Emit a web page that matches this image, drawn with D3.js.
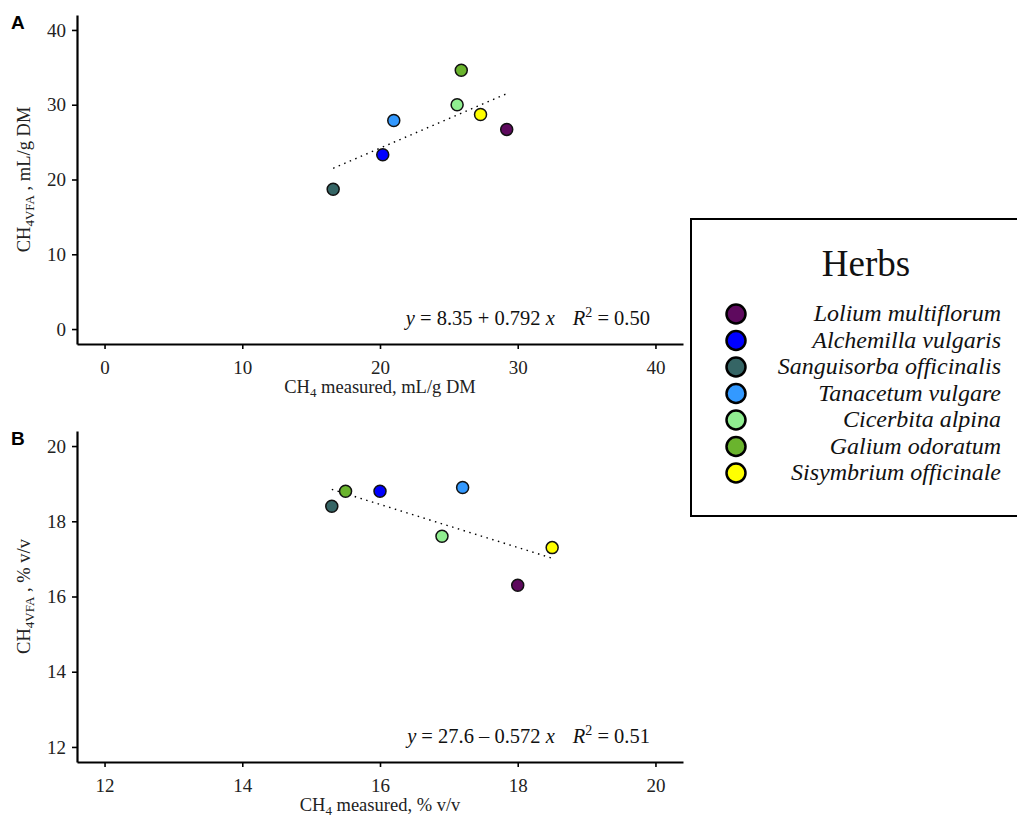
<!DOCTYPE html>
<html>
<head>
<meta charset="utf-8">
<script src="https://cdn.jsdelivr.net/npm/d3@7"></script>
<style>
  body { margin: 0; background: #fff; }
  svg { display: block; }
</style>
</head>
<body>
<svg id="chart" width="1017" height="818"></svg>
<script>
// herbs and their colours
const herbs = ["Lolium multiflorum", "Alchemilla vulgaris", "Sanguisorba officinalis",
  "Tanacetum vulgare", "Cicerbita alpina", "Galium odoratum", "Sisymbrium officinale"];
const herbColors = ["#5e0a5e", "#0000ff", "#356565", "#3399ff", "#90ee90", "#6ab42d", "#ffff00"];

// panel A: mL/g DM
const measuredA = [29.2, 20.2, 16.6, 21.0, 25.6, 25.9, 27.3];
const vfaA = [26.7, 23.3, 18.7, 27.9, 30.0, 34.6, 28.7];
const ticksA = [0, 10, 20, 30, 40];
const fitA = { intercept: 8.35, slope: 0.792, r2: "0.50" };

// panel B: % v/v
const measuredB = [18.0, 16.0, 15.3, 17.2, 16.9, 15.5, 18.5];
const vfaB = [16.3, 18.8, 18.4, 18.9, 17.6, 18.8, 17.3];
const ticksB = [12, 14, 16, 18, 20];
const fitB = { intercept: 27.6, slope: -0.572, r2: "0.51" };

const svg = d3.select("#chart");
const serif = "Liberation Serif";

function panel(opt) {
  const g = svg.append("g");
  const x = d3.scaleLinear().domain(opt.domain).range([77, 683]);
  const y = d3.scaleLinear().domain(opt.domain).range([opt.bottom, opt.top]);

  const xAxis = g.append("g")
    .attr("transform", `translate(0,${opt.bottom})`)
    .call(d3.axisBottom(x).tickValues(opt.ticks).tickSize(5).tickPadding(8).tickSizeOuter(0));
  const yAxis = g.append("g")
    .attr("transform", "translate(77,0)")
    .call(d3.axisLeft(y).tickValues(opt.ticks).tickSize(5).tickPadding(6).tickSizeOuter(0));
  [xAxis, yAxis].forEach(a => {
    a.attr("font-family", serif).attr("font-size", 19);
    a.select(".domain").attr("stroke", "#000").attr("stroke-width", 2.2);
    a.selectAll(".tick line").attr("stroke", "#000").attr("stroke-width", 1.6);
    a.selectAll(".tick text").attr("fill", "#222");
  });
  xAxis.selectAll(".tick text").attr("dy", "0.9em");

  // panel letter
  g.append("text").attr("x", 11).attr("y", opt.top + 14)
    .attr("font-family", "Liberation Sans")
    .attr("font-weight", "bold").attr("font-size", 19).text(opt.letter);

  // x title
  const xt = g.append("text").attr("x", 380).attr("y", opt.bottom + 49)
    .attr("text-anchor", "middle").attr("font-family", serif).attr("font-size", 18.5).attr("fill", "#222");
  xt.append("tspan").text("CH");
  xt.append("tspan").attr("font-size", 13).attr("dy", 4).text("4");
  xt.append("tspan").attr("dy", -4).text(" measured, " + opt.unit);

  // y title
  const yt = g.append("text")
    .attr("transform", `translate(30,${(opt.top + opt.bottom) / 2}) rotate(-90)`)
    .attr("text-anchor", "middle").attr("font-family", serif).attr("font-size", 18.5).attr("fill", "#222");
  yt.append("tspan").text("CH");
  yt.append("tspan").attr("font-size", 13).attr("dy", 4).text("4VFA");
  yt.append("tspan").attr("dy", -4).text(" , " + opt.unit);

  // regression line over the data range
  const xs = d3.extent(opt.mx);
  g.append("line")
    .attr("x1", x(xs[0])).attr("y1", y(opt.fit.intercept + opt.fit.slope * xs[0]))
    .attr("x2", x(xs[1])).attr("y2", y(opt.fit.intercept + opt.fit.slope * xs[1]))
    .attr("stroke", "#000").attr("stroke-width", 1.4)
    .attr("stroke-dasharray", "1.5,4.5");

  // points
  g.selectAll("circle.pt")
    .data(herbs.map((h, i) => ({ h, i, mx: opt.mx[i], vy: opt.vy[i] })))
    .enter().append("circle")
    .attr("class", "pt")
    .attr("cx", d => x(d.mx)).attr("cy", d => y(d.vy))
    .attr("r", 6)
    .attr("fill", d => herbColors[d.i])
    .attr("stroke", "#111").attr("stroke-width", 1.5);

  // equation
  const eq = g.append("text").attr("x", 650).attr("y", opt.bottom - 19)
    .attr("text-anchor", "end").attr("font-family", serif).attr("font-size", 20.5).attr("fill", "#111");
  const sign = opt.fit.slope < 0 ? " \u2013 " : " + ";
  eq.append("tspan").attr("font-style", "italic").text("y");
  eq.append("tspan").text(" = " + opt.fit.intercept + sign + Math.abs(opt.fit.slope) + " ");
  eq.append("tspan").attr("font-style", "italic").text("x");
  eq.append("tspan").attr("font-style", "italic").attr("dx", 18).text("R");
  eq.append("tspan").attr("font-size", 14).attr("dy", -8).text("2");
  eq.append("tspan").attr("dy", 8).text(" = " + opt.fit.r2);
}

panel({ letter: "A", domain: [-2, 42], ticks: ticksA, top: 15, bottom: 344,
  mx: measuredA, vy: vfaA, fit: fitA, unit: "mL/g DM" });
panel({ letter: "B", domain: [11.6, 20.4], ticks: ticksB, top: 431, bottom: 762,
  mx: measuredB, vy: vfaB, fit: fitB, unit: "% v/v" });

// legend
const lg = svg.append("g");
lg.append("rect").attr("x", 691).attr("y", 219).attr("width", 340).attr("height", 297)
  .attr("fill", "#fff").attr("stroke", "#000").attr("stroke-width", 2);
lg.append("text").attr("x", 866).attr("y", 276).attr("text-anchor", "middle")
  .attr("font-family", serif).attr("font-size", 37).attr("fill", "#111").text("Herbs");
const ly = d3.scalePoint().domain(herbs).range([314, 473]);
const items = lg.selectAll("g.item").data(herbs).enter().append("g").attr("class", "item")
  .attr("transform", d => `translate(0,${ly(d)})`);
items.append("circle").attr("cx", 736).attr("cy", 0).attr("r", 9.5)
  .attr("fill", (d, i) => herbColors[i]).attr("stroke", "#000").attr("stroke-width", 2.5);
items.append("text").attr("x", 1001).attr("y", 7).attr("text-anchor", "end")
  .attr("font-family", serif).attr("font-style", "italic").attr("font-size", 24)
  .attr("fill", "#111").text(d => d);
</script>
</body>
</html>
